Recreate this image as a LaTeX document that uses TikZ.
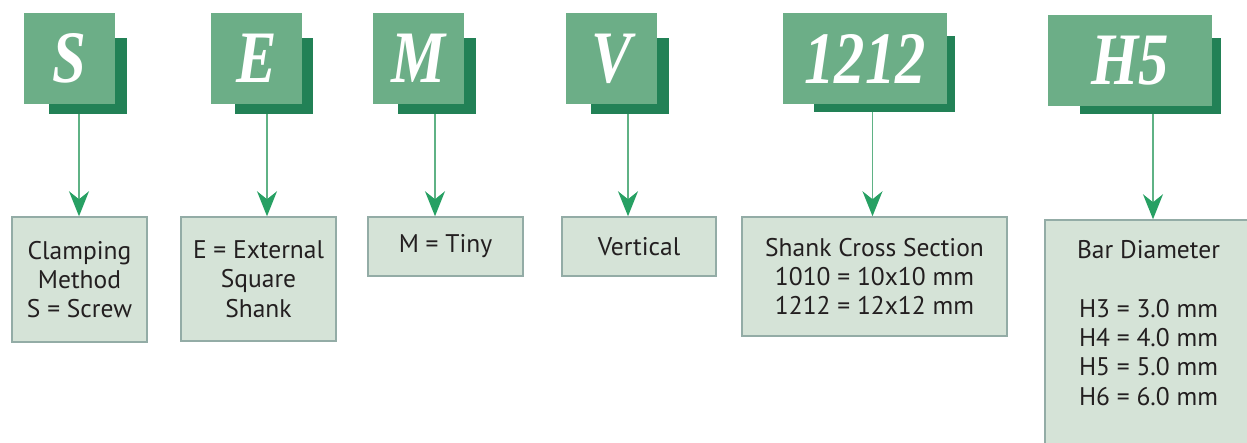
\documentclass[tikz,border=0pt]{standalone}
\usepackage{fontspec}
\setmainfont{PT Sans}
\newfontfamily\codefont[FakeStretch=0.82]{Liberation Serif}
\usetikzlibrary{arrows.meta,positioning}

\definecolor{codegreen}{HTML}{6CAE87}
\definecolor{shadegreen}{HTML}{228156}
\definecolor{descfill}{HTML}{D5E3D7}
\definecolor{descline}{HTML}{93ACA6}
\definecolor{linegreen}{HTML}{5FB285}
\definecolor{tipgreen}{HTML}{27A063}
\definecolor{inkgray}{HTML}{231F20}

\tikzset{
  codebox/.style={fill=codegreen, text=white, inner sep=0pt,
    font=\codefont\bfseries\itshape\fontsize{74}{74}\selectfont},
  shadebox/.style={fill=shadegreen, inner sep=0pt},
  descbox/.style={fill=descfill, draw=descline, line width=1.5pt, text=inkgray,
    align=center, inner sep=0pt, font=\fontsize{25.5}{29.3}\selectfont},
  link/.style={draw=linegreen, line width=1.6pt,
    -{Stealth[length=25pt,width=20pt,inset=8pt,color=tipgreen]}},
}

\begin{document}
\begin{tikzpicture}[x=1pt,y=-1pt]
  \useasboundingbox (0,0) rectangle (1247,442);

  % shadows behind the code letters
  \node[shadebox, minimum width=78, minimum height=76]  (s-sh) at (88,76) {};
  \node[shadebox, minimum width=78, minimum height=76]  (e-sh) at (274,76) {};
  \node[shadebox, minimum width=78, minimum height=76]  (m-sh) at (437,76) {};
  \node[shadebox, minimum width=78, minimum height=76]  (v-sh) at (630,76) {};
  \node[shadebox, minimum width=141, minimum height=76] (n-sh) at (884.5,74) {};
  \node[shadebox, minimum width=141, minimum height=76] (h-sh) at (1150.5,76) {};

  % code letters
  \node[codebox, minimum width=91, minimum height=91]  (s) at (69.5,58.5) {S};
  \node[codebox, minimum width=91, minimum height=91]  (e) at (256.5,58.5) {E};
  \node[codebox, minimum width=91, minimum height=91]  (m) at (418.5,58.5) {M};
  \node[codebox, minimum width=91, minimum height=91]  (v) at (611.5,58.5) {V};
  \node[codebox, minimum width=164, minimum height=91] (n) at (865,58.5) {1212};
  \node[codebox, minimum width=164, minimum height=91] (h) at (1130,60.5) {H5};

  % meaning boxes
  \node[descbox, minimum width=135, minimum height=125] (clamp) at (79.5,279.5)
    {Clamping\\Method\\S = Screw};
  \node[descbox, minimum width=155, minimum height=124] (ext) at (258.5,279)
    {E = External\\Square\\Shank};
  \node[descbox, minimum width=155, minimum height=59] (tiny) at (445.5,246.5)
    {M = Tiny};
  \node[descbox, minimum width=154, minimum height=59] (vert) at (639,246.5)
    {Vertical};
  \node[descbox, minimum width=265, minimum height=119] (shank) at (874.5,276.5)
    {Shank Cross Section\\1010 = 10x10 mm\\1212 = 12x12 mm};
  \node[descbox, minimum width=207, minimum height=235] (bar) at (1148.5,337.5)
    {Bar Diameter\\ \mbox{}\\H3 = 3.0 mm\\H4 = 4.0 mm\\H5 = 5.0 mm\\H6 = 6.0 mm\\ \mbox{}};

  % arrows
  \coordinate (s-out) at (79,114);
  \coordinate (e-out) at (267,114);
  \coordinate (m-out) at (435,114);
  \coordinate (v-out) at (628,114);
  \coordinate (n-out) at (872.5,112);
  \coordinate (h-out) at (1153,114);
  \draw[link] (s-out) -- (s-out |- clamp.north);
  \draw[link] (e-out) -- (e-out |- ext.north);
  \draw[link] (m-out) -- (m-out |- tiny.north);
  \draw[link] (v-out) -- (v-out |- vert.north);
  \draw[link] (n-out) -- (n-out |- shank.north);
  \draw[link] (h-out) -- (h-out |- bar.north);
\end{tikzpicture}
\end{document}
